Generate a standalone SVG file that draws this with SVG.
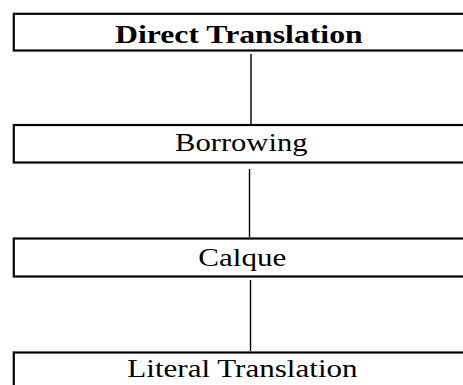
<svg xmlns="http://www.w3.org/2000/svg" width="463" height="385" viewBox="0 0 463 385">
  <style>
    .box { fill: #ffffff; stroke: #000000; stroke-width: 2.2; }
    .link { stroke: #000000; stroke-width: 1.4; fill: none; }
    .label { font-family: "Liberation Serif", "Times New Roman", serif; font-size: 25.5px; fill: #000000; }
    .title { font-weight: bold; }
  </style>
  <rect x="0" y="0" width="463" height="385" fill="#ffffff"/>

  <!-- connectors between the stacked boxes -->
  <g id="connectors">
    <line class="link" x1="251" y1="54" x2="251" y2="124"/>
    <line class="link" x1="249.5" y1="169" x2="249.5" y2="237"/>
    <line class="link" x1="250.5" y1="280" x2="250.5" y2="351"/>
  </g>

  <!-- boxes run off the right edge of the page; labels are set in a widened face -->
  <g id="direct-translation">
    <rect class="box" x="13.8" y="13.8" width="500" height="36.7"/>
    <text class="label title" transform="translate(115 42.5) scale(1.245 1)">Direct Translation</text>
  </g>

  <g id="borrowing">
    <rect class="box" x="13.8" y="125" width="500" height="37.5"/>
    <text class="label" transform="translate(175 150.5) scale(1.2 1)">Borrowing</text>
  </g>

  <g id="calque">
    <rect class="box" x="13.8" y="238.5" width="500" height="38"/>
    <text class="label" transform="translate(198.3 266) scale(1.218 1)">Calque</text>
  </g>

  <g id="literal-translation">
    <rect class="box" x="13.8" y="352.5" width="500" height="50"/>
    <text class="label" transform="translate(127.3 377) scale(1.218 1)">Literal Translation</text>
  </g>
</svg>
